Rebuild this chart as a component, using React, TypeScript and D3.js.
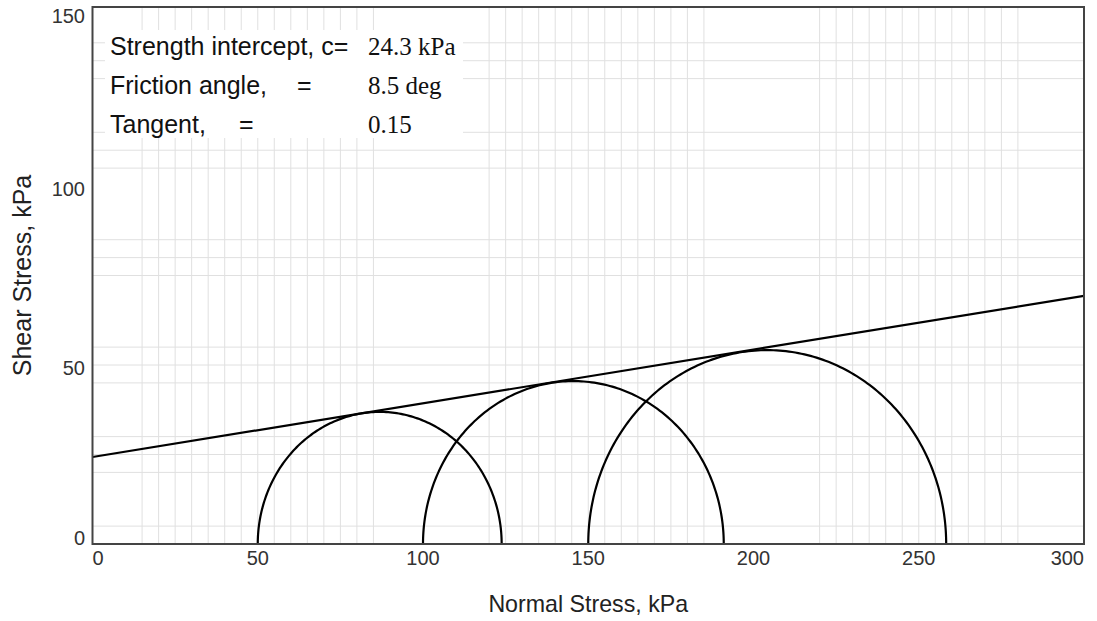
import React from "react";
import * as d3 from "d3";

// Mohr circles: minor (sigma3) and major (sigma1) principal stresses, kPa
const sigma3 = [50, 100, 150];
const sigma1 = [123.8, 191.0, 258.3];

// Failure envelope parameters
const cohesion = 24.3; // kPa
const frictionAngle = 8.5; // deg
const tangent = 0.15;

// Axis ticks
const xTicks = [0, 50, 100, 150, 200, 250, 300];
const yTicks = [0, 50, 100, 150];

// Light grid lines (kPa)
const xGrid = [15, 20, 25, 30, 35, 40, 45, 50, 55, 60, 65, 70, 75, 80, 85,
  120, 125, 130, 135, 140, 145, 150, 155, 160, 165, 170, 175, 180, 185,
  220, 225, 230, 235, 240, 245, 250, 255, 260, 265, 270, 275, 280];
const yGrid = [5, 20, 25, 30, 45, 50, 55, 75, 80, 85, 105, 110, 115, 130, 135, 140];

const W = 1097;
const H = 621;
const left = 92.5;
const right = 1084;
const top = 7;
const bottom = 544;

const SANS = "'Liberation Sans', Arial, Helvetica, sans-serif";
const SERIF = "'Liberation Serif', 'Times New Roman', Times, serif";

export default function App() {
  const x = d3.scaleLinear().domain([0, 300]).range([left, right]);
  const y = d3.scaleLinear().domain([0, 150]).range([bottom, top]);

  const line = d3
    .line<[number, number]>()
    .x((d) => x(d[0]))
    .y((d) => y(d[1]));

  const angles = d3.range(0, 181).map((a) => (a * Math.PI) / 180);
  const circlePaths = sigma3.map((s3, i) => {
    const c = (s3 + sigma1[i]) / 2;
    const r = (sigma1[i] - s3) / 2;
    const pts: [number, number][] = angles.map((t) => [c + r * Math.cos(t), r * Math.sin(t)]);
    return line(pts) as string;
  });

  const envelope = line([
    [0, cohesion],
    [300, cohesion + tangent * 300],
  ]) as string;

  const tickFont = 20;

  return (
    <svg
      width={W}
      height={H}
      style={{ position: "absolute", left: 0, top: 0, display: "block", background: "#fff" }}
    >
      <rect x={0} y={0} width={W} height={H} fill="#fff" />
      <defs>
        <clipPath id="plot-clip">
          <rect x={left} y={top} width={right - left} height={bottom - top} />
        </clipPath>
      </defs>

      {/* grid */}
      <g stroke="#e0e0e0" strokeWidth={1}>
        {xGrid.map((v) => (
          <line key={"gx" + v} x1={x(v)} x2={x(v)} y1={top} y2={bottom} />
        ))}
        {yGrid.map((v) => (
          <line key={"gy" + v} x1={left} x2={right} y1={y(v)} y2={y(v)} />
        ))}
      </g>

      {/* parameter box */}
      <rect x={105} y={30} width={358} height={108} fill="#fff" />
      <g fontFamily={SANS} fontSize={25} fill="#111">
        <text x={110} y={54.5}>Strength intercept, c=</text>
        <text x={110} y={94}>Friction angle,</text>
        <text x={297} y={94}>=</text>
        <text x={110} y={132.5}>Tangent,</text>
        <text x={239} y={132.5}>=</text>
      </g>
      <g fontFamily={SERIF} fontSize={25} fill="#111">
        <text x={368} y={54.5}>{`${cohesion} kPa`}</text>
        <text x={368} y={94}>{`${frictionAngle} deg`}</text>
        <text x={368} y={132.5}>{tangent.toFixed(2)}</text>
      </g>

      {/* Mohr circles and envelope */}
      <g clipPath="url(#plot-clip)" fill="none" stroke="#000" strokeWidth={2.2}>
        {circlePaths.map((d, i) => (
          <path key={"c" + i} d={d} />
        ))}
        <path d={envelope} />
      </g>

      {/* frame */}
      <rect
        x={left}
        y={top}
        width={right - left}
        height={bottom - top}
        fill="none"
        stroke="#444"
        strokeWidth={2}
      />

      {/* x tick labels */}
      <g fontFamily={SANS} fontSize={tickFont} fill="#333">
        {xTicks.map((v, i) => (
          <text
            key={"xt" + v}
            x={x(v)}
            y={565}
            textAnchor={i === 0 ? "start" : i === xTicks.length - 1 ? "end" : "middle"}
          >
            {v}
          </text>
        ))}
      </g>

      {/* y tick labels */}
      <g fontFamily={SANS} fontSize={tickFont} fill="#333">
        {yTicks.map((v) => {
          const cy = Math.min(Math.max(y(v) + 2.5, top + 9), bottom - 6);
          return (
            <text key={"yt" + v} x={85} y={cy} dy="0.36em" textAnchor="end">
              {v}
            </text>
          );
        })}
      </g>

      {/* axis titles */}
      <text
        x={(left + right) / 2}
        y={612}
        textAnchor="middle"
        fontFamily={SANS}
        fontSize={23.2}
        fill="#222"
      >
        Normal Stress, kPa
      </text>
      <text
        transform={`translate(31,${(top + bottom) / 2}) rotate(-90)`}
        textAnchor="middle"
        fontFamily={SANS}
        fontSize={25}
        fill="#222"
      >
        Shear Stress, kPa
      </text>
    </svg>
  );
}
